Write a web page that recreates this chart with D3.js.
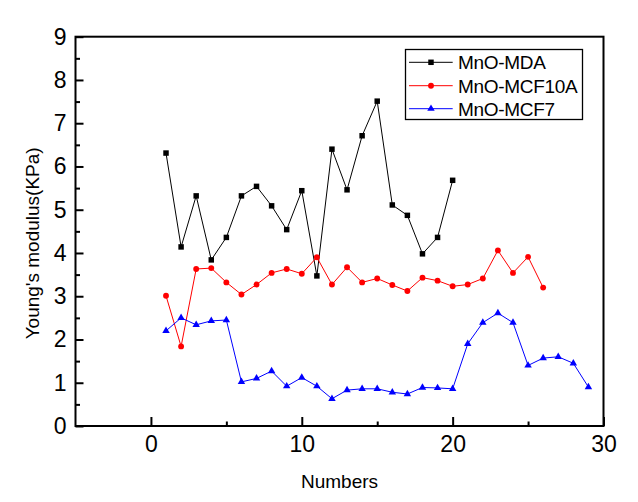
<!DOCTYPE html>
<html>
<head>
<meta charset="utf-8">
<script src="https://cdn.jsdelivr.net/npm/d3@7"></script>
<style>
  html, body { margin: 0; padding: 0; background: #fff; }
  svg { display: block; font-family: "Liberation Sans", Arial, sans-serif; }
</style>
</head>
<body>
<svg id="chart" width="638" height="502"></svg>
<script>
// ---- data ----
const xMDA = [1,2,3,4,5,6,7,8,9,10,11,12,13,14,15,16,17,18,19,20];
const yMDA = [6.31,4.14,5.32,3.84,4.36,5.32,5.54,5.09,4.54,5.44,3.47,6.40,5.46,6.71,7.51,5.11,4.87,3.98,4.36,5.68];

const xMCF10A = [1,2,3,4,5,6,7,8,9,10,11,12,13,14,15,16,17,18,19,20,21,22,23,24,25,26];
const yMCF10A = [3.01,1.84,3.63,3.65,3.32,3.04,3.27,3.54,3.63,3.52,3.90,3.27,3.67,3.32,3.41,3.26,3.12,3.43,3.36,3.23,3.27,3.41,4.06,3.54,3.91,3.20];

const xMCF7 = [1,2,3,4,5,6,7,8,9,10,11,12,13,14,15,16,17,18,19,20,21,22,23,24,25,26,27,28,29];
const yMCF7 = [2.20,2.50,2.34,2.43,2.45,1.02,1.10,1.27,0.92,1.12,0.92,0.63,0.83,0.86,0.86,0.78,0.74,0.89,0.88,0.86,1.90,2.39,2.61,2.39,1.40,1.57,1.60,1.45,0.90];

const seriesNames = ["MnO-MDA", "MnO-MCF10A", "MnO-MCF7"];
const xTicks = [0, 10, 20, 30];
const xMinorTicks = [5, 15, 25];
const yTicks = [0,1,2,3,4,5,6,7,8,9];
const yMinorTicks = [0.5,1.5,2.5,3.5,4.5,5.5,6.5,7.5,8.5];
const xTitle = "Numbers";
const yTitle = "Young's modulus(KPa)";

// ---- drawing ----
const svg = d3.select("#chart");
const x = d3.scaleLinear().domain([-5, 30]).range([75.5, 603.5]);
const y = d3.scaleLinear().domain([0, 9]).range([426, 36.7]);

const series = [
  { name: seriesNames[0], xs: xMDA, ys: yMDA, color: "#000000", shape: d3.symbolSquare, size: 30 },
  { name: seriesNames[1], xs: xMCF10A, ys: yMCF10A, color: "#ff0000", shape: d3.symbolCircle, size: 27 },
  { name: seriesNames[2], xs: xMCF7, ys: yMCF7, color: "#0000ff", shape: d3.symbolTriangle, size: 24 }
];

const fontTick = 23;

// axes
const gx = svg.append("g").attr("transform", `translate(0,${y(0)})`)
  .call(d3.axisBottom(x).tickValues(xTicks).tickSize(-9).tickSizeOuter(0).tickPadding(10).tickFormat(d3.format("d")));
const gxm = svg.append("g").attr("transform", `translate(0,${y(0)})`)
  .call(d3.axisBottom(x).tickValues(xMinorTicks).tickSize(-4.5).tickSizeOuter(0).tickFormat(""));
const gy = svg.append("g").attr("transform", `translate(${x(-5)},0)`)
  .call(d3.axisLeft(y).tickValues(yTicks).tickSize(-8).tickSizeOuter(0).tickPadding(9).tickFormat(d3.format("d")));
const gym = svg.append("g").attr("transform", `translate(${x(-5)},0)`)
  .call(d3.axisLeft(y).tickValues(yMinorTicks).tickSize(-4.5).tickSizeOuter(0).tickFormat(""));

[gx, gxm, gy, gym].forEach(g => {
  g.select(".domain").remove();
  g.selectAll(".tick line").attr("stroke", "#000").attr("stroke-width", 2);
  g.selectAll(".tick text").attr("fill", "#000")
    .style("font-family", '"Liberation Sans", Arial, sans-serif')
    .style("font-size", fontTick + "px");
});

// frame
svg.append("rect")
  .attr("x", x(-5)).attr("y", y(9))
  .attr("width", x(30) - x(-5)).attr("height", y(0) - y(9))
  .attr("fill", "none").attr("stroke", "#000").attr("stroke-width", 2);

// titles
svg.append("text").attr("x", (x(-5) + x(30)) / 2).attr("y", 488)
  .attr("text-anchor", "middle").style("font-size", "19px").attr("fill", "#000").text(xTitle);
svg.append("text").attr("transform", `translate(39,${(y(0) + y(9)) / 2 + 12}) rotate(-90)`)
  .attr("text-anchor", "middle").style("font-size", "19px").attr("fill", "#000").text(yTitle);

// series
series.forEach(s => {
  const pts = s.xs.map((d, i) => [d, s.ys[i]]);
  svg.append("path").datum(pts)
    .attr("fill", "none").attr("stroke", s.color).attr("stroke-width", 1)
    .attr("d", d3.line().x(d => x(d[0])).y(d => y(d[1])));
  svg.append("g").selectAll("path").data(pts).join("path")
    .attr("transform", d => `translate(${x(d[0])},${y(d[1])})`)
    .attr("d", d3.symbol().type(s.shape).size(s.size))
    .attr("fill", s.color);
});

// legend
const lg = svg.append("g");
lg.append("rect").attr("x", 405.5).attr("y", 49.5).attr("width", 177).attr("height", 70)
  .attr("fill", "#fff").attr("stroke", "#000").attr("stroke-width", 1.3);
const rowY = [62.3, 85.7, 108.7];
series.forEach((s, i) => {
  lg.append("line").attr("x1", 409).attr("x2", 452.7).attr("y1", rowY[i]).attr("y2", rowY[i])
    .attr("stroke", s.color).attr("stroke-width", 1);
  lg.append("path").attr("transform", `translate(431,${rowY[i]})`)
    .attr("d", d3.symbol().type(s.shape).size(s.size)).attr("fill", s.color);
  lg.append("text").attr("x", 458).attr("y", rowY[i] + 6.8)
    .style("font-size", "19px").style("letter-spacing", "-0.3px").attr("fill", "#000").text(s.name);
});
</script>
</body>
</html>
